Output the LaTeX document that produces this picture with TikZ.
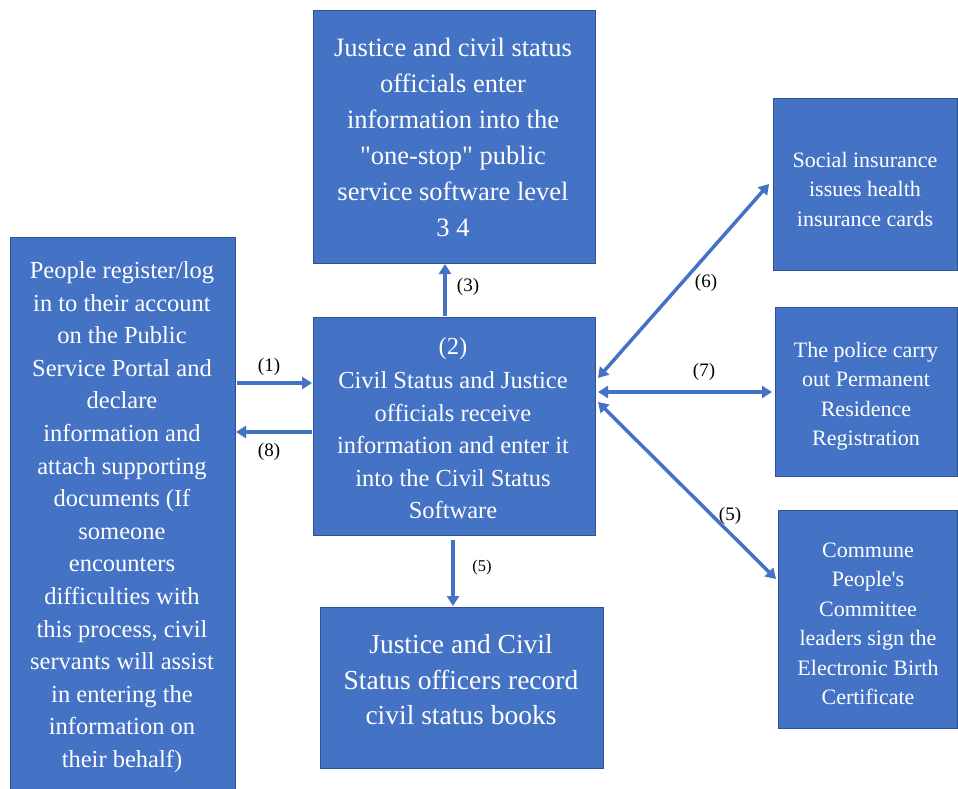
\documentclass[tikz,border=0pt]{standalone}
\usepackage{fontspec}
\setmainfont{Liberation Serif}[Ligatures=TeXOff]
\usetikzlibrary{arrows.meta}
\definecolor{boxblue}{HTML}{4472C4}
\definecolor{boxedge}{HTML}{2F528F}
\tikzset{
  x=1pt,y=-1pt,
  bluebox/.style={fill=boxblue,draw=boxedge,line width=0.6pt},
  boxtext/.style={text=white,align=center,inner sep=0pt},
  conn/.style={draw=boxblue,line width=3.5pt,-{Triangle[width=12pt,length=10pt]}},
  dconn/.style={draw=boxblue,line width=3.5pt,{Triangle[width=12pt,length=10pt]}-{Triangle[width=12pt,length=10pt]}},
  lab/.style={font=\fontsize{19}{21}\selectfont,inner sep=1pt}
}
\begin{document}
\begin{tikzpicture}
\useasboundingbox (0,0) rectangle (958,789);
% boxes
\draw[bluebox] (10,237) rectangle (235,789);
\draw[bluebox] (313,10) rectangle (595,263);
\draw[bluebox] (313,317) rectangle (595,535);
\draw[bluebox] (320,607) rectangle (603,768);
\draw[bluebox] (773,98) rectangle (957,270);
\draw[bluebox] (775,307) rectangle (957,476);
\draw[bluebox] (778,510) rectangle (957,728);
% texts
\node[boxtext,font=\fontsize{24.5}{32.6}\selectfont] (left) at (122,517) {People register/log\\in to their account\\on the Public\\Service Portal and\\declare\\information and\\attach supporting\\documents (If\\someone\\encounters\\difficulties with\\this process, civil\\servants will assist\\in entering the\\information on\\their behalf)};
\node[boxtext,font=\fontsize{26.5}{36}\selectfont] (top) at (453,137) {Justice and civil status\\officials enter\\information into the\\"one-stop" public\\service software level\\3 4};
\node[boxtext,font=\fontsize{24.5}{32.5}\selectfont] (center) at (453,428) {(2)\\[2pt]Civil Status and Justice\\officials receive\\information and enter it\\into the Civil Status\\Software};
\node[boxtext,font=\fontsize{27.5}{35.5}\selectfont] (bottom) at (461,680) {Justice and Civil\\Status officers record\\civil status books};
\node[boxtext,font=\fontsize{22}{29.5}\selectfont] (rtop) at (865,189) {Social insurance\\issues health\\insurance cards};
\node[boxtext,font=\fontsize{22}{29.5}\selectfont] (rmid) at (866,396) {The police carry\\out Permanent\\Residence\\Registration};
\node[boxtext,font=\fontsize{22}{29.5}\selectfont] (rbot) at (868,624) {Commune\\People's\\Committee\\leaders sign the\\Electronic Birth\\Certificate};
% anchor coordinates
\coordinate (a1s) at (237,383); \coordinate (a1e) at (312,383);
\coordinate (a8s) at (312,432); \coordinate (a8e) at (236,432);
\coordinate (a3s) at (445,316); \coordinate (a3e) at (445,264);
\coordinate (a5s) at (453,540); \coordinate (a5e) at (453,606);
\coordinate (a6s) at (598,378); \coordinate (a6e) at (769,184);
\coordinate (a7s) at (598,392); \coordinate (a7e) at (772,392);
\coordinate (a9s) at (598,402); \coordinate (a9e) at (776,579);
% connectors
\draw[conn] (a1s) -- (a1e);
\draw[conn] (a8s) -- (a8e);
\draw[conn] (a3s) -- (a3e);
\draw[conn] (a5s) -- (a5e);
\draw[dconn] (a6s) -- (a6e);
\draw[dconn] (a7s) -- (a7e);
\draw[dconn] (a9s) -- (a9e);
% labels
\node[lab] (l1) at (269,367) {(1)};
\node[lab] (l8) at (269,452) {(8)};
\node[lab] (l3) at (468,287) {(3)};
\node[lab,font=\fontsize{16.5}{18}\selectfont] (l5a) at (482,568) {(5)};
\node[lab] (l6) at (706,283) {(6)};
\node[lab] (l7) at (704,372) {(7)};
\node[lab] (l5b) at (730,516) {(5)};
\end{tikzpicture}
\end{document}
